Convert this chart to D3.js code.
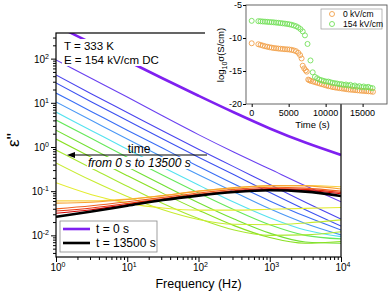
<!DOCTYPE html>
<html><head><meta charset="utf-8">
<script src="https://cdn.jsdelivr.net/npm/d3@7"></script>
<style>body{margin:0;background:#fff} text{font-family:"Liberation Sans",Arial,sans-serif;fill:#000}</style>
</head><body><svg id="c" width="389" height="294"></svg>
<script>
// ---------- data: main chart (ε'' vs frequency, log10 values) ----------
const freqs = [1, 3.162, 10, 31.62, 100, 316.2, 1000, 3162, 10000];
const logEpsCurves = [
  [2.75, 2.35, 1.95, 1.55, 1.16, 0.78, 0.42, 0.10, -0.18],   // t = 0 s
  [1.97, 1.55, 1.13, 0.70, 0.28, -0.12, -0.50, -0.88, -1.24],
  [1.63, 1.20, 0.78, 0.36, -0.05, -0.45, -0.85, -1.25, -1.63],
  [1.45, 1.02, 0.60, 0.18, -0.23, -0.63, -1.03, -1.42, -1.79],
  [1.22, 0.80, 0.38, -0.03, -0.44, -0.84, -1.22, -1.57, -1.88],
  [1.02, 0.60, 0.18, -0.23, -0.63, -1.02, -1.40, -1.73, -1.99],
  [0.79, 0.37, -0.05, -0.46, -0.86, -1.25, -1.60, -1.88, -2.03],
  [0.61, 0.19, -0.23, -0.64, -1.04, -1.42, -1.76, -2.00, -2.08],
  [0.38, -0.04, -0.45, -0.86, -1.26, -1.63, -1.95, -2.15, -2.18],
  [0.18, -0.24, -0.65, -1.05, -1.43, -1.78, -2.05, -2.18, -2.14],
  [-0.07, -0.48, -0.89, -1.28, -1.62, -1.88, -2.00, -1.99, -1.92],
  [-0.36, -0.76, -1.12, -1.42, -1.64, -1.75, -1.76, -1.72, -1.65],
  [-0.81, -1.08, -1.27, -1.38, -1.43, -1.43, -1.41, -1.39, -1.37],
  [-1.22, -1.22, -1.18, -1.10, -1.00, -0.93, -0.88, -0.87, -0.90],
  [-1.27, -1.25, -1.19, -1.10, -1.00, -0.92, -0.87, -0.88, -0.95],
  [-1.40, -1.33, -1.24, -1.14, -1.04, -0.96, -0.91, -0.93, -1.00],
  [-1.45, -1.38, -1.28, -1.17, -1.07, -0.99, -0.94, -0.96, -1.03],
  [-1.50, -1.42, -1.30, -1.19, -1.09, -1.01, -0.96, -0.98, -1.06],
  [-1.58, -1.46, -1.33, -1.20, -1.10, -1.02, -0.98, -1.01, -1.11]  // t = 13500 s
];
const curveColors = ["#7f20f0","#6a40f0","#4a44ee","#3c52f0","#3a6ef5","#4a98f5","#55e2f0",
  "#66e85a","#72e032","#8ae022","#a8e830","#c8ec30","#e4ec30",
  "#f8d040","#f8a030","#f06020","#e83010","#d00000","#000000"];
const xTicks = [1, 10, 100, 1000, 10000];
const xExps = ["0","1","2","3","4"];
const yTicks = [0.01, 0.1, 1, 10, 100];
const yExps = ["-2","-1","0","1","2"];
const legendLabels = ["t = 0 s", "t = 13500 s"];

// ---------- data: inset (log10 σ vs time) ----------
const timeOrange = [0,900,1200,1500,1800,2100,2400,2700,3000,3300,3600,3900,4200,4500,4800,5100,5400,5700,6000,6300,6550,6750,6900,7100,7300,7450,7650,7800,8000,8300,8600,8900,9200,9500,9800,10100,10400,10700,11000,11300,11600,11900,12200,12500,12800,13100,13400,13700,14000,14300,14600,14900,15200,15500,15800,16100,16400];
const sigmaOrange = [-10.8,-10.95,-11.05,-11.15,-11.25,-11.33,-11.4,-11.46,-11.52,-11.56,-11.6,-11.63,-11.66,-11.7,-11.72,-11.75,-11.8,-11.88,-12.0,-12.25,-12.6,-13.1,-14.2,-14.6,-14.9,-15.1,-16.3,-16.4,-16.5,-16.6,-16.7,-16.8,-16.9,-17.0,-17.1,-17.2,-17.3,-17.35,-17.45,-17.5,-17.55,-17.6,-17.65,-17.7,-17.75,-17.8,-17.83,-17.86,-17.9,-17.93,-17.96,-18.0,-18.02,-18.05,-18.08,-18.1,-18.15];
const timeGreen = [0,900,1200,1500,1800,2100,2400,2700,3000,3300,3600,3900,4200,4500,4800,5100,5400,5700,6000,6300,6600,6900,7200,7550,7950,8250,8550,8850,9150,9450,9750,10050,10350,10650,10950,11250,11550,11850,12150,12450,12750,13050,13350,13650,13950,14250,14550,14850,15150,15450,15750,16050,16350];
const sigmaGreen = [-7.4,-7.45,-7.47,-7.5,-7.52,-7.55,-7.58,-7.6,-7.63,-7.67,-7.7,-7.74,-7.78,-7.82,-7.87,-7.93,-8.0,-8.1,-8.22,-8.4,-8.65,-9.0,-9.6,-10.9,-13.4,-15.2,-15.9,-16.1,-16.3,-16.4,-16.5,-16.6,-16.6,-16.7,-16.8,-16.85,-16.9,-17.0,-17.0,-17.1,-17.05,-17.2,-17.1,-17.3,-17.2,-17.4,-17.3,-17.45,-17.35,-17.5,-17.4,-17.55,-17.6];
const insetXTicks = [0, 5000, 10000, 15000];
const insetYTicks = [-5, -10, -15, -20];
const insetLegend = ["0 kV/cm", "154 kV/cm"];
const insetColors = ["#f2a04a", "#74e05a"];

// ---------- main chart ----------
const svg = d3.select("#c");
const L = 56, R = 341, T = 33, B = 257;
const x = d3.scaleLog().domain([1, 1e4]).range([L, R]);
const y = d3.scaleLog().domain([Math.pow(10, -2.49), Math.pow(10, 2.58)]).range([B, T]);

svg.append("clipPath").attr("id", "clip").append("rect")
  .attr("x", L).attr("y", T).attr("width", R - L).attr("height", B - T);

const line = d3.line()
  .x((d, i) => x(freqs[i]))
  .y(d => y(Math.pow(10, d)))
  .curve(d3.curveMonotoneX);

const gCurves = svg.append("g").attr("clip-path", "url(#clip)");
logEpsCurves.forEach((c, i) => {
  const thick = (i === 0 || i === logEpsCurves.length - 1);
  gCurves.append("path").attr("d", line(c)).attr("fill", "none")
    .attr("stroke", curveColors[i]).attr("stroke-width", thick ? 2.6 : 1.1);
});

// axes
const minorX = [];
for (let e = 0; e < 4; e++) for (let k = 2; k <= 9; k++) minorX.push(k * Math.pow(10, e));
const minorY = [];
for (let e = -3; e < 3; e++) for (let k = 2; k <= 9; k++) {
  const v = k * Math.pow(10, e);
  if (v >= y.domain()[0] && v <= y.domain()[1]) minorY.push(v);
}
function styleAxis(g) { g.select(".domain").remove(); g.selectAll("line").attr("stroke", "#000"); g.selectAll("text").remove(); }
svg.append("g").attr("transform", `translate(0,${B})`)
  .call(d3.axisBottom(x).tickValues(xTicks).tickSize(5)).call(styleAxis);
svg.append("g").attr("transform", `translate(0,${B})`)
  .call(d3.axisBottom(x).tickValues(minorX).tickSize(3)).call(styleAxis);
svg.append("g").attr("transform", `translate(${L},0)`)
  .call(d3.axisLeft(y).tickValues(yTicks).tickSize(5)).call(styleAxis);
svg.append("g").attr("transform", `translate(${L},0)`)
  .call(d3.axisLeft(y).tickValues(minorY).tickSize(3)).call(styleAxis);

xTicks.forEach((v, i) => {
  const t = svg.append("text").attr("x", x(v) + 2).attr("y", B + 14).attr("text-anchor", "middle").style("font-size", "10px");
  t.append("tspan").text("10");
  t.append("tspan").attr("dy", -4).style("font-size", "7px").text(xExps[i]);
});
yTicks.forEach((v, i) => {
  const t = svg.append("text").attr("x", L - 7).attr("y", y(v) + 4).attr("text-anchor", "end").style("font-size", "10px");
  t.append("tspan").text("10");
  t.append("tspan").attr("dy", -4).style("font-size", "7px").text(yExps[i]);
});

// frame
svg.append("rect").attr("x", L).attr("y", T).attr("width", R - L).attr("height", B - T)
  .attr("fill", "none").attr("stroke", "#000").attr("stroke-width", 1.2);

// axis titles
svg.append("text").attr("x", (L + R) / 2).attr("y", 288).attr("text-anchor", "middle")
  .style("font-size", "12.5px").text("Frequency (Hz)");
svg.append("text").attr("transform", "translate(19,140) rotate(-90)").attr("text-anchor", "middle")
  .style("font-size", "17px").text("ε''");

// annotation top-left
svg.append("rect").attr("x", 62).attr("y", 39).attr("width", 100).attr("height", 27).attr("fill", "#fff");
svg.append("text").attr("x", 64).attr("y", 50).style("font-size", "11.5px").text("T = 333 K");
svg.append("text").attr("x", 64).attr("y", 64).style("font-size", "11.5px").text("E = 154 kV/cm DC");

// time arrow annotation
svg.append("rect").attr("x", 87).attr("y", 157).attr("width", 103).attr("height", 12).attr("fill", "#fff");
svg.append("text").attr("x", 139).attr("y", 153).attr("text-anchor", "middle").style("font-size", "12px").text("time");
svg.append("text").attr("x", 88).attr("y", 167).style("font-size", "12px").style("font-style", "italic").text("from 0 s to 13500 s");
svg.append("line").attr("x1", 207).attr("x2", 73).attr("y1", 155).attr("y2", 155).attr("stroke", "#000").attr("stroke-width", 1.2);
svg.append("path").attr("d", "M67,155 L75,152 L75,158 Z").attr("fill", "#000");

// main legend
svg.append("rect").attr("x", 60).attr("y", 221).attr("width", 97).attr("height", 31)
  .attr("fill", "#fff").attr("stroke", "#888").attr("stroke-width", 0.8);
[0, logEpsCurves.length - 1].forEach((ci, k) => {
  const yy = 229 + k * 14;
  svg.append("line").attr("x1", 63).attr("x2", 90).attr("y1", yy).attr("y2", yy)
    .attr("stroke", curveColors[ci]).attr("stroke-width", 2.6);
  svg.append("text").attr("x", 96).attr("y", yy + 4).style("font-size", "12px").text(legendLabels[k]);
});

// ---------- inset ----------
const iL = 246, iR = 387, iT = 5, iB = 104;
const xi = d3.scaleLinear().domain([-770, 18300]).range([iL, iR]);
const yi = d3.scaleLinear().domain([-20, -5]).range([iB, iT]);

// hide main top frame under inset area
svg.append("rect").attr("x", 205).attr("y", 28).attr("width", iL - 205).attr("height", 10).attr("fill", "#fff");
svg.append("rect").attr("x", iL).attr("y", iT).attr("width", iR - iL).attr("height", iB - iT)
  .attr("fill", "#fff").attr("stroke", "#555").attr("stroke-width", 0.9);

const gi = svg.append("g");
gi.append("g").attr("transform", `translate(0,${iB})`)
  .call(d3.axisBottom(xi).tickValues(insetXTicks).tickSize(3)).call(styleAxis);
gi.append("g").attr("transform", `translate(${iL},0)`)
  .call(d3.axisLeft(yi).tickValues(insetYTicks).tickSize(3)).call(styleAxis);
insetXTicks.forEach(v => {
  gi.append("text").attr("x", xi(v)).attr("y", iB + 12).attr("text-anchor", "middle").style("font-size", "9px").text(v);
});
insetYTicks.forEach(v => {
  gi.append("text").attr("x", iL - 4).attr("y", yi(v) + 3).attr("text-anchor", "end").style("font-size", "9px").text(v);
});
gi.append("text").attr("x", (iL + iR) / 2 - 4).attr("y", 128).attr("text-anchor", "middle").style("font-size", "9.5px").text("Time (s)");
const yl = gi.append("text").attr("transform", "translate(224,55) rotate(-90)").attr("text-anchor", "middle").style("font-size", "9.5px");
yl.append("tspan").text("log");
yl.append("tspan").attr("dy", 2.5).style("font-size", "7px").text("10");
yl.append("tspan").attr("dy", -2.5).text("σ(S/cm)");

const series = [[timeOrange, sigmaOrange], [timeGreen, sigmaGreen]];
series.forEach(([ts, vs], k) => {
  gi.append("g").selectAll("circle").data(ts).join("circle")
    .attr("cx", d => xi(d)).attr("cy", (d, i) => yi(vs[i])).attr("r", 2.5)
    .attr("fill", "none").attr("stroke", insetColors[k]).attr("stroke-width", 0.9);
});

// inset legend
gi.append("rect").attr("x", 321).attr("y", 9).attr("width", 61).attr("height", 20)
  .attr("fill", "#fff").attr("stroke", "#999").attr("stroke-width", 0.7);
insetLegend.forEach((lab, k) => {
  const yy = 14 + k * 10;
  gi.append("circle").attr("cx", 332).attr("cy", yy).attr("r", 2.5).attr("fill", "none")
    .attr("stroke", insetColors[k]).attr("stroke-width", 0.9);
  gi.append("text").attr("x", 343).attr("y", yy + 3).style("font-size", "8.5px").text(lab);
});
</script>
</body></html>
